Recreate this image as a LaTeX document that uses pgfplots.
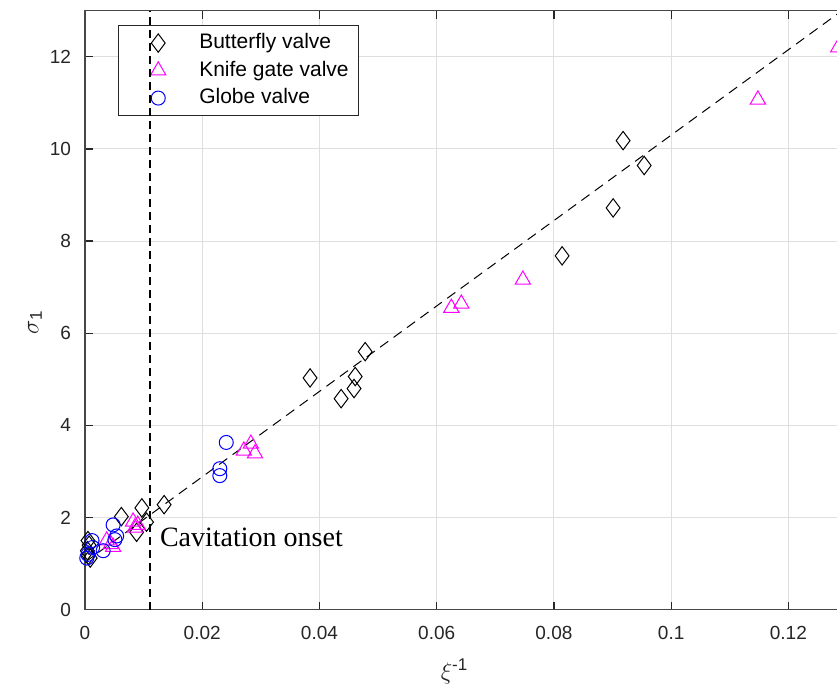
\documentclass[border=0pt]{standalone}
\usepackage{pgfplots}
\pgfplotsset{compat=1.18}
\usepackage{fontspec}
\setmainfont{Liberation Sans}
\newfontfamily\serifface{Liberation Serif}

\definecolor{axgray}{HTML}{262626}
\definecolor{gridgray}{HTML}{DFDFDF}
\definecolor{knifemag}{RGB}{255,0,255}
\definecolor{globeblue}{RGB}{0,0,255}

% Measured cavitation data: sigma_1 against inverse loss coefficient
\pgfplotstableread{
x y
0.0478 5.60
0.0384 5.03
0.0461 5.06
0.0437 4.58
0.0459 4.80
0.0814 7.68
0.0901 8.72
0.0918 10.18
0.0954 9.64
0.0135 2.28
0.0097 2.21
0.0062 2.02
0.0105 1.90
0.0088 1.68
0.0005 1.50
0.0007 1.40
0.0004 1.28
0.0006 1.18
0.0009 1.12
}\butterfly
\pgfplotstableread{
x y
0.1285 12.20
0.1148 11.07
0.0747 7.16
0.0625 6.55
0.0642 6.64
0.0283 3.60
0.0271 3.45
0.0290 3.39
0.0082 1.91
0.0090 1.84
0.0085 1.78
0.0037 1.50
0.0044 1.42
0.0048 1.36
}\knifegate
\pgfplotstableread{
x y
0.0241 3.63
0.0230 3.06
0.0230 2.91
0.0048 1.84
0.0054 1.60
0.0051 1.52
0.0012 1.50
0.0031 1.28
0.0013 1.35
0.0005 1.20
0.0003 1.12
}\globe

\begin{document}
\begin{tikzpicture}
\begin{axis}[
  name=ax,
  scale only axis,
  width=381pt, height=299.5pt,
  xmin=0, xmax=0.13, ymin=0, ymax=13,
  xtick={0,0.02,0.04,0.06,0.08,0.1,0.12},
  xticklabels={0,0.02,0.04,0.06,0.08,0.1,0.12},
  ytick={0,2,4,6,8,10,12},
  scaled x ticks=false,
  /pgf/number format/assume math mode=true,
  tick label style={font=\fontsize{9.5}{11}\selectfont, text=axgray},
  xticklabel style={yshift=-4.5pt},
  yticklabel style={xshift=-3.5pt},
  tick align=inside,
  major tick length=4pt,
  tick style={axgray, line width=0.6pt},
  axis line style={axgray!85, line width=0.6pt},
  grid=major,
  major grid style={gridgray, line width=0.5pt},
  xlabel={$\xi^{\mbox{\fontsize{8.5}{9}\selectfont -1}}$},
  ylabel={$\sigma_{\mbox{\fontsize{8.5}{9}\selectfont 1}}$},
  label style={font=\fontsize{12}{14}\selectfont, text=axgray},
  xlabel style={at={(axis description cs:0.485,0)}, anchor=north, yshift=-21pt},
  ylabel style={at={(axis description cs:0,0.48)}, anchor=south, yshift=18pt},
  legend cell align=left,
  legend style={
    at={(axis description cs:0.043,0.976)}, anchor=north west,
    draw=axgray, line width=0.5pt, fill=white,
    font=\fontsize{10.5}{12}\selectfont,
    inner xsep=5pt, inner ysep=4pt,
    nodes={inner sep=0pt, text height=7.5pt, text depth=2pt},
    row sep=4.25pt, column sep=5.5pt,
  },
  legend image code/.code={
    \path[draw=none, fill=none] (0pt,0pt) -- (30pt,0pt);
    \path[#1, draw=none, fill=none] plot coordinates {(15pt,0pt)};
  },
]
\addplot[only marks, mark=diamond, mark size=4.6pt,
  mark options={draw=black, fill=none, line width=0.5pt}] table {\butterfly};
\addlegendentry{Butterfly valve}
\addplot[only marks, mark=triangle, mark size=4.4pt,
  mark options={draw=knifemag, fill=none, line width=0.5pt}] table {\knifegate};
\addlegendentry{Knife gate valve}
\addplot[only marks, mark=o, mark size=3.5pt,
  mark options={draw=globeblue, fill=none, line width=0.5pt}] table {\globe};
\addlegendentry{Globe valve}
% linear fit through all valves
\addplot[black, line width=0.5pt, dash pattern=on 5pt off 3.3pt, forget plot]
  coordinates {(0,1.03) (0.13,13.08)};
\node[anchor=west, font=\serifface\fontsize{14}{16}\selectfont, text=black]
  at (axis cs:0.0116,1.58) {Cavitation onset};
\coordinate (onsetb) at (axis cs:0.0111,0);
\coordinate (onsett) at (axis cs:0.0111,13);
\end{axis}
% onset line drawn above the legend box
\draw[black, line width=1pt, dash pattern=on 4pt off 2.5pt] (onsetb) -- (onsett);
\pgfresetboundingbox
\path ([xshift=-42.5pt, yshift=-41pt]ax.south west)
  rectangle ([xshift=376pt, yshift=5.35pt]ax.north west);
\end{tikzpicture}
\end{document}
